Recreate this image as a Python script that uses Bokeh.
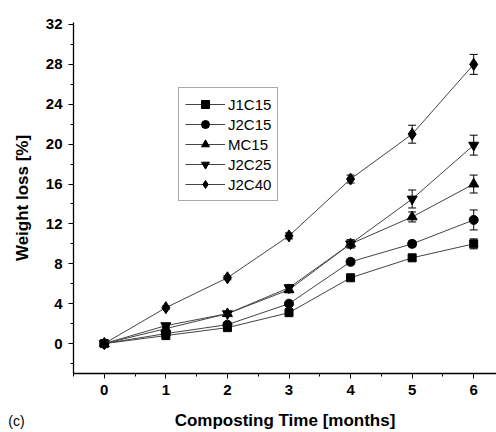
from bokeh.plotting import figure
from bokeh.models import ColumnDataSource, Whisker, TeeHead, Label, Legend, LegendItem, Range1d, FixedTicker
from bokeh.embed import file_html
from bokeh.resources import INLINE

months = [0, 1, 2, 3, 4, 5, 6]
series_names = ["J1C15", "J2C15", "MC15", "J2C25", "J2C40"]
j1c15 = [0, 0.8, 1.6, 3.1, 6.6, 8.6, 10.0]
j2c15 = [0, 1.0, 1.9, 4.0, 8.2, 10.0, 12.4]
mc15 = [0, 1.5, 3.0, 5.4, 10.0, 12.7, 16.0]
j2c25 = [0, 1.8, 3.0, 5.6, 10.0, 14.5, 19.9]
j2c40 = [0, 3.6, 6.6, 10.8, 16.5, 21.0, 28.0]
err_j1c15 = [0, 0.1, 0.15, 0.2, 0.3, 0.3, 0.5]
err_j2c15 = [0, 0.1, 0.15, 0.2, 0.3, 0.3, 1.0]
err_mc15 = [0, 0.1, 0.15, 0.3, 0.4, 0.5, 0.9]
err_j2c25 = [0, 0.1, 0.15, 0.3, 0.4, 0.9, 1.0]
err_j2c40 = [0, 0.15, 0.2, 0.3, 0.4, 0.9, 1.0]
markers = ["square", "circle", "triangle", "inverted_triangle", "diamond"]
sizes = [8, 9, 10, 10, 12]
y_ticks = [0, 4, 8, 12, 16, 20, 24, 28, 32]
x_ticks = [0, 1, 2, 3, 4, 5, 6]

FONT = "Liberation Sans"

p = figure(width=496, height=432, output_backend="svg", toolbar_location=None,
           x_range=Range1d(-0.5, 6.37), y_range=Range1d(-3.0, 32.2),
           min_border_left=73, min_border_right=0, min_border_top=22, min_border_bottom=59)
p.outline_line_color = None
p.xgrid.grid_line_color = None
p.ygrid.grid_line_color = None
p.background_fill_color = "white"
p.border_fill_color = "white"

for ax in (p.xaxis[0], p.yaxis[0]):
    ax.axis_line_color = "black"
    ax.axis_line_width = 1.3
    ax.major_tick_line_color = "black"
    ax.minor_tick_line_color = "black"
    ax.major_tick_out = 5
    ax.major_tick_in = 0
    ax.minor_tick_out = 3
    ax.minor_tick_in = 0
    ax.major_label_text_font = FONT
    ax.major_label_text_font_style = "bold"
    ax.major_label_text_font_size = "15px"
    ax.major_label_text_color = "black"
    ax.axis_label_text_font = FONT
    ax.axis_label_text_font_style = "bold"
    ax.axis_label_text_font_size = "17px"
    ax.axis_label_text_color = "black"

p.xaxis.ticker = FixedTicker(ticks=x_ticks, minor_ticks=[-0.5 + 0.5 * i for i in range(14)])
p.yaxis.ticker = FixedTicker(ticks=y_ticks, minor_ticks=list(range(-2, 33, 2)))
p.xaxis.axis_label = "Composting Time [months]"
p.yaxis.axis_label = "Weight loss [%]"
p.xaxis.major_label_standoff = 6
p.yaxis.major_label_standoff = 6
p.xaxis.axis_label_standoff = 13
p.yaxis.axis_label_standoff = 11

all_vals = [j1c15, j2c15, mc15, j2c25, j2c40]
all_errs = [err_j1c15, err_j2c15, err_mc15, err_j2c25, err_j2c40]
items = []
for name, vals, errs, mk, sz in zip(series_names, all_vals, all_errs, markers, sizes):
    src = ColumnDataSource(dict(x=months, y=vals,
                                upper=[v + e for v, e in zip(vals, errs)],
                                lower=[v - e for v, e in zip(vals, errs)]))
    ln = p.line("x", "y", source=src, line_color="#444444", line_width=1)
    w = Whisker(base="x", upper="upper", lower="lower", source=src, dimension="height",
                line_color="black", line_width=1,
                upper_head=TeeHead(size=8, line_color="black", line_width=1),
                lower_head=TeeHead(size=8, line_color="black", line_width=1))
    p.add_layout(w)
    sc = p.scatter("x", "y", source=src, marker=mk, size=sz,
                   fill_color="black", line_color="black")
    items.append(LegendItem(label=name, renderers=[ln, sc]))

legend = Legend(items=items, location=(105, 172), orientation="vertical",
                label_text_font=FONT, label_text_font_size="15px", label_text_color="black",
                glyph_width=40, glyph_height=20, label_height=20, spacing=0, padding=6,
                margin=0, label_standoff=3,
                border_line_color="#555555", border_line_width=1, background_fill_alpha=1)
p.add_layout(legend, "center")

p.add_layout(Label(x=-1.56, y=-7.75, text="(c)", text_font=FONT, text_font_size="14px",
                   text_color="black", text_align="left", text_baseline="middle"), "above")

open("out.html", "w").write(file_html(p, INLINE))
